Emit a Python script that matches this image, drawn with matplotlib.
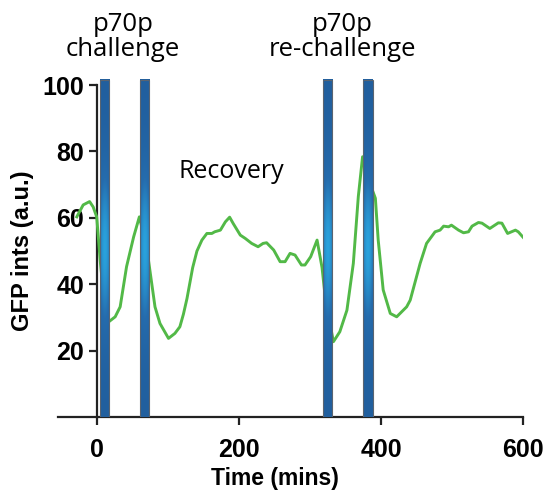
import numpy as np
import matplotlib.pyplot as plt
from matplotlib.colors import LinearSegmentedColormap
from matplotlib.patches import Rectangle

# GFP trace
time = [-28, -19, -10, -5, 0, 5, 10, 17, 26, 33, 42, 52, 60, 66, 73, 82, 89, 101,
        110, 117, 122, 127, 135, 141, 148, 155, 162, 166, 174, 181, 187, 192, 202,
        209, 218, 227, 234, 239, 249, 258, 265, 272, 279, 288, 293, 301, 310, 317,
        322, 333, 342, 352, 361, 368, 374, 380, 385, 392, 396, 403, 413, 422, 436,
        441, 455, 464, 476, 483, 488, 495, 499, 509, 516, 523, 528, 537, 542, 553,
        565, 570, 578, 589, 593, 600]
gfp = [60.3, 63.9, 64.9, 63.3, 60.3, 47, 36, 28.7, 30.2, 33.2, 45.3, 54.3, 60.3, 55,
       47, 33.2, 28.2, 23.7, 25.2, 27.2, 31, 35.7, 45, 50, 53.3, 55.3, 55.3, 55.8,
       56.3, 58.8, 60.2, 58.3, 54.8, 53.8, 52.3, 51.3, 52.3, 52.5, 50.3, 46.8, 46.8,
       49.3, 48.8, 45.8, 45.8, 48.3, 53.3, 45, 35, 22.7, 25.7, 32.2, 46.3, 66.4, 78.4,
       74, 70, 65.9, 53.3, 38.3, 31.2, 30.2, 33.2, 35.2, 46.3, 52.3, 55.8, 56.3, 57.5,
       57.3, 57.8, 56.3, 55.5, 55.8, 57.5, 58.6, 58.4, 56.8, 58.5, 58.4, 55.3, 56.3,
       55.8, 54.1]

# peptide pulses (start time, duration in mins)
pulse_start = [5, 61, 318, 375]
pulse_len = 13
pulse_top = 101.5

fig = plt.figure(figsize=(5.46, 4.93), dpi=100)
ax = fig.add_axes([0.1068, 0.154, 0.8515, 0.687])

ax.plot(time, gfp, color='#52b947', lw=2.1, zorder=2)

# shaded bars: dark edges, light centre
cmap = LinearSegmentedColormap.from_list('bar', ['#215f9e', '#256cad', '#2aa2dc'])
yy = np.linspace(-1, 1, 200)[:, None]
xx = np.linspace(-1, 1, 20)[None, :]
grad = np.exp(-(yy / 0.5) ** 2) * (1 - 0.4 * xx ** 2)
for x0 in pulse_start:
    ax.imshow(grad, extent=(x0, x0 + pulse_len, 0, pulse_top), aspect='auto',
              cmap=cmap, vmin=0, vmax=1, zorder=3, interpolation='bilinear')
    ax.add_patch(Rectangle((x0, 0), pulse_len, pulse_top, fill=False,
                           edgecolor='#5a6470', lw=0.8, zorder=4))

ax.set_xlim(-54, 600)
ax.set_ylim(0, 102)

for s in ['top', 'right']:
    ax.spines[s].set_visible(False)
ax.spines['left'].set_position(('data', 0))
ax.spines['left'].set_bounds(0, 100)
ax.spines['left'].set_zorder(1)
for s in ['left', 'bottom']:
    ax.spines[s].set_linewidth(1.6)
    ax.spines[s].set_color('#222222')

ax.set_xticks([0, 200, 400, 600])
ax.set_yticks([20, 40, 60, 80, 100])
ax.tick_params(length=6, width=1.6, color='#222222', labelsize=18)
ax.tick_params(axis='x', pad=9)
ax.tick_params(axis='y', pad=3)
for lab in ax.get_xticklabels() + ax.get_yticklabels():
    lab.set_fontweight('bold')
    lab.set_family('Liberation Sans')

fig.text(0.504, 0.030, 'Time (mins)', fontsize=16.5, fontweight='bold',
         family='Liberation Sans', ha='center', va='center')
fig.text(0.041, 0.491, 'GFP ints (a.u.)', rotation=90, fontsize=17, fontweight='bold',
         family='Liberation Sans', ha='center', va='center')

ax.text(37, 114.4, 'p70p\nchallenge', ha='center', va='center', fontsize=18.5,
        family='Open Sans', linespacing=1.0, clip_on=False)
ax.text(346, 114.4, 'p70p\nre-challenge', ha='center', va='center', fontsize=18.5,
        family='Open Sans', linespacing=1.0, clip_on=False)
ax.text(190, 74, 'Recovery', ha='center', va='center', fontsize=18, family='Open Sans')

fig.savefig('out.png', dpi=100)
